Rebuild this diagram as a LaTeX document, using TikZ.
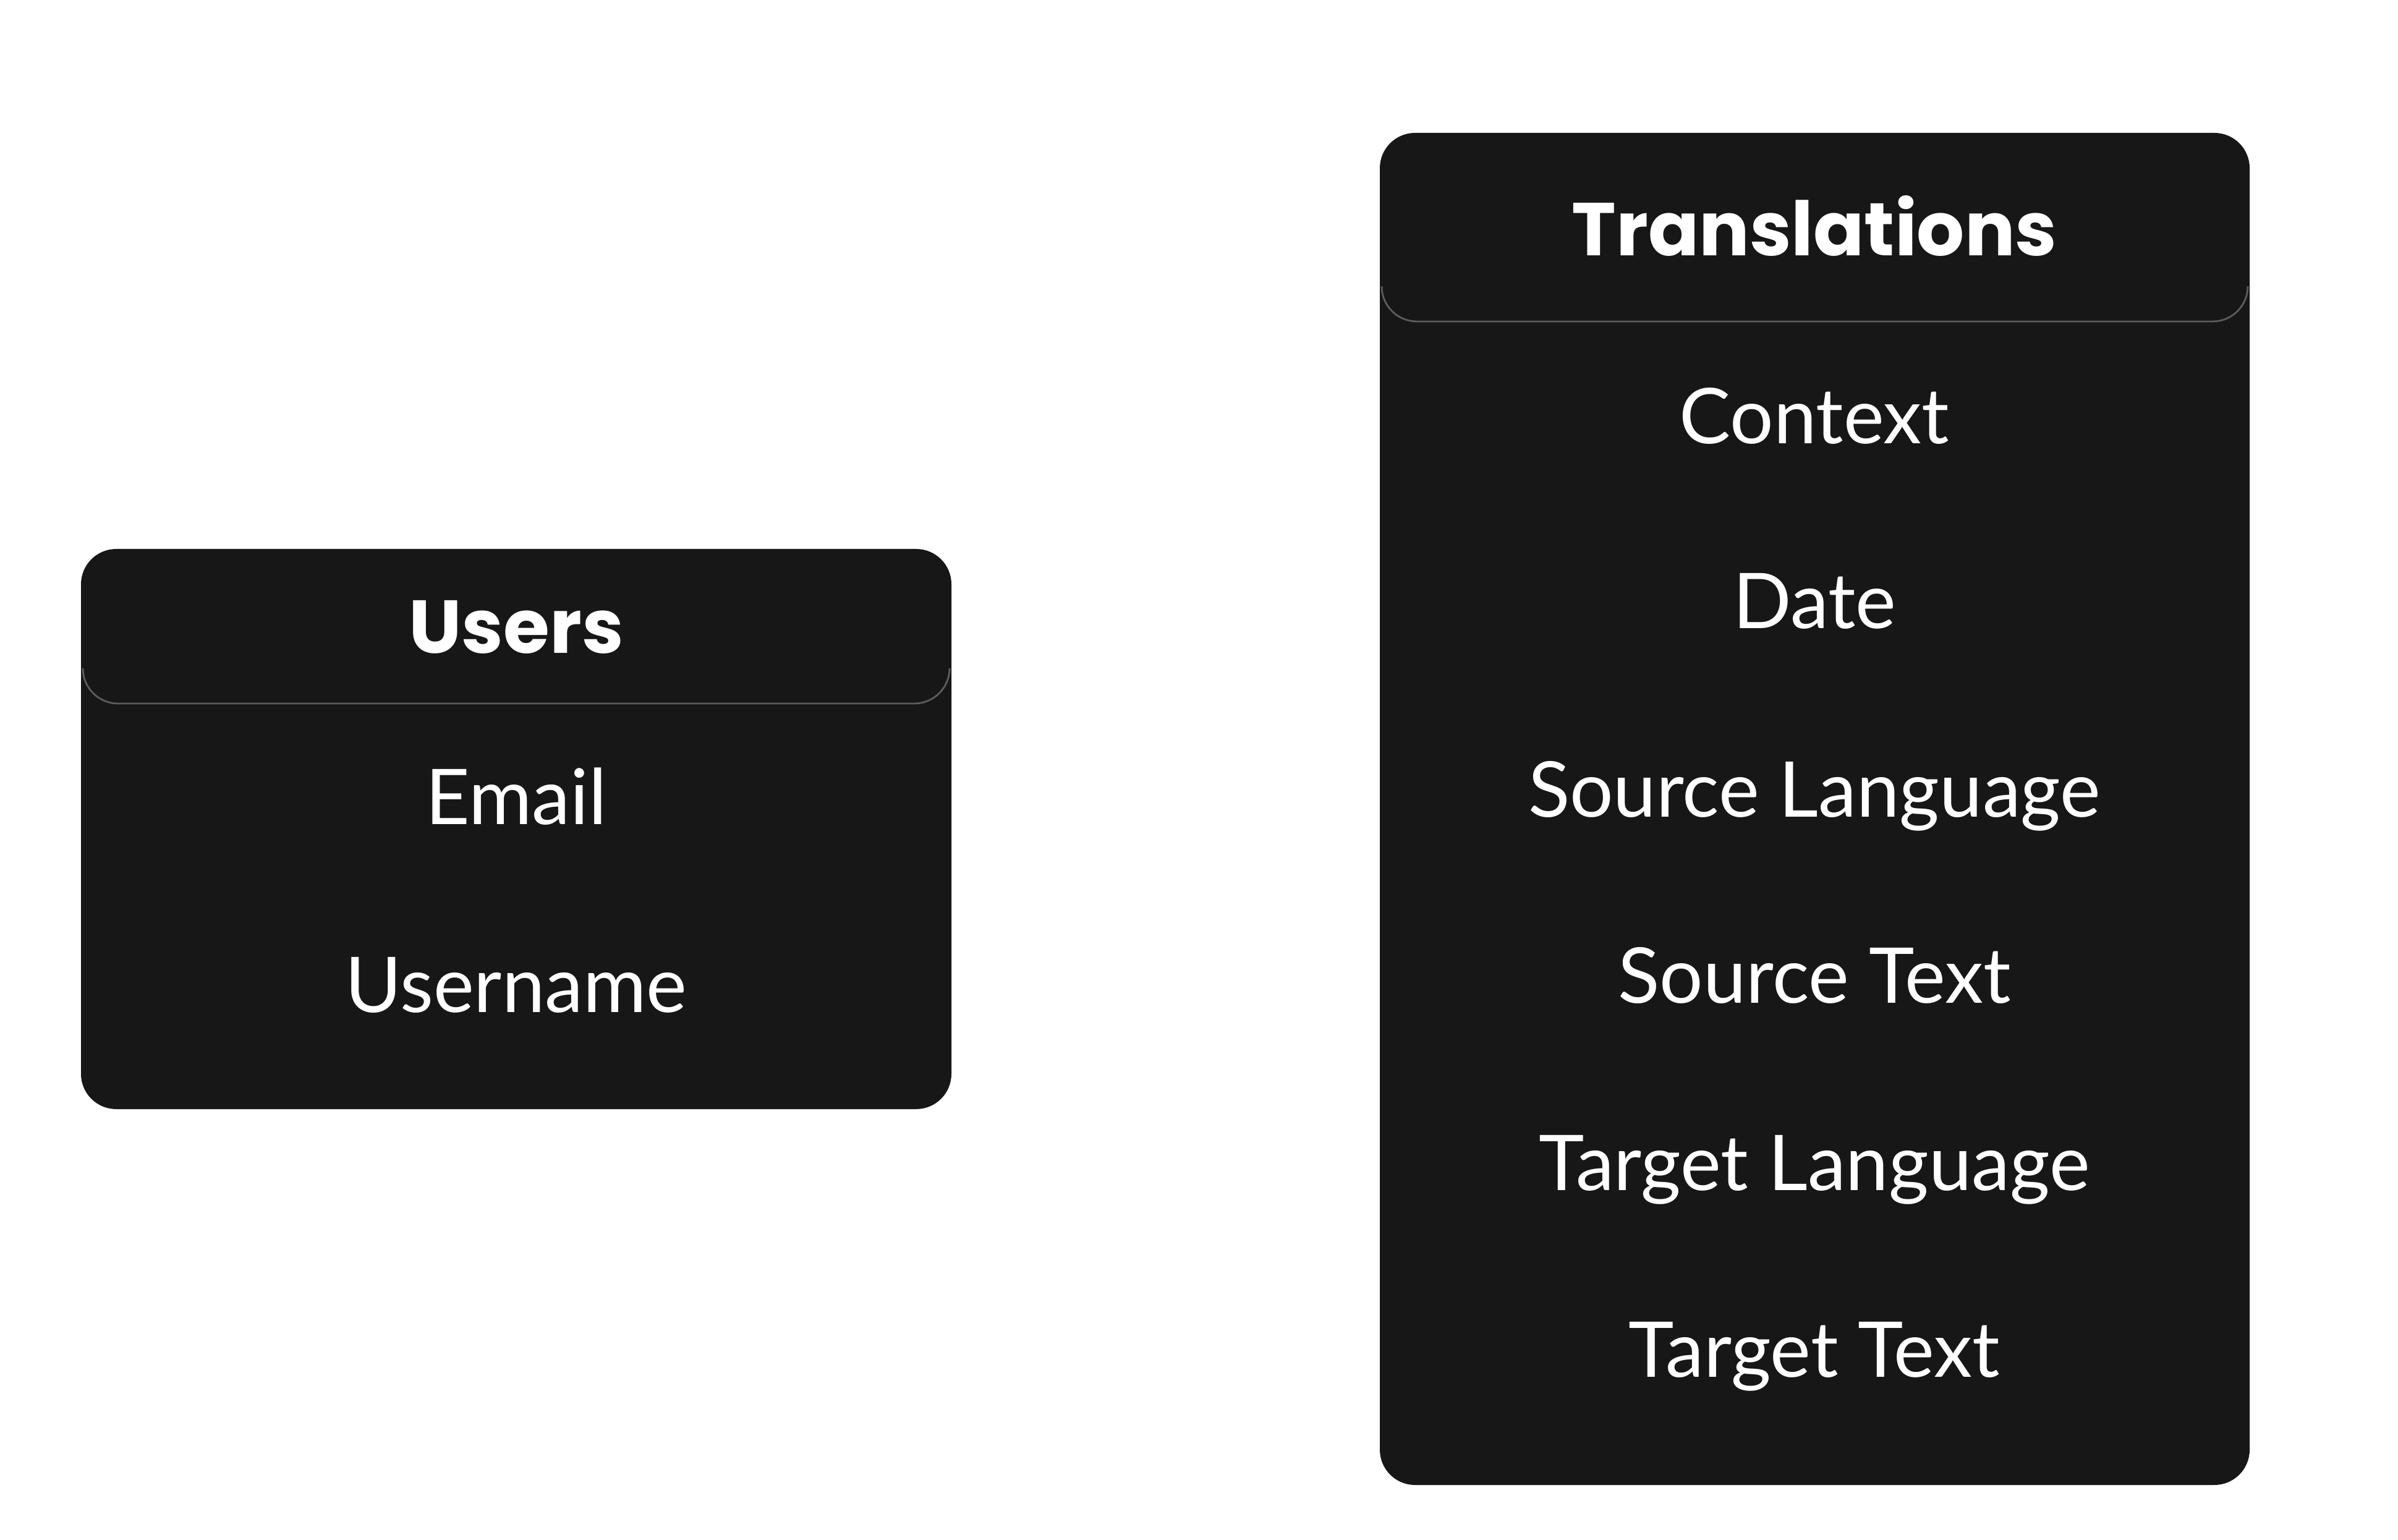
\documentclass[tikz,border=0pt]{standalone}
\usepackage{fontspec}
\setmainfont{Lato}
\newfontfamily\headfont{Poppins}
\usepackage{xcolor}
\definecolor{cTable}{HTML}{171717}
\definecolor{cRule}{HTML}{5C5C5C}

\begin{document}
\begin{tikzpicture}[
    tablebox/.style={fill=cTable, rounded corners=5.7mm},
    headrule/.style={draw=cRule, line width=0.8pt, rounded corners=5.7mm},
    title/.style={text=white, anchor=base, inner sep=0pt, font=\headfont\bfseries\fontsize{34.5}{40}\selectfont},
    field/.style={text=white, anchor=base, inner sep=0pt, font=\fontsize{35.4}{42}\selectfont}
  ]
  \useasboundingbox (0,0) rectangle (38.79,24.90);
  % Users table
  \fill[tablebox] (1.31,6.96) rectangle (15.39,16.02);
  \draw[headrule] (1.34,14.09) -- (1.34,13.52) -- (15.36,13.52) -- (15.36,14.09);
  \node[title] (usersHead) at (8.35,14.33) {Users};
  \node[field] (usersEmail) at (8.35,11.56) {Email};
  \node[field] (usersName) at (8.35,8.52) {Username};
  % Translations table
  \fill[tablebox] (22.32,0.88) rectangle (36.39,22.75);
  \draw[headrule] (22.35,20.27) -- (22.35,19.70) -- (36.36,19.70) -- (36.36,20.27);
  \node[title] (transHead) at (29.35,20.76) {Translations};
  \node[field] (transContext) at (29.35,17.72) {Context};
  \node[field] (transDate) at (29.35,14.73) {Date};
  \node[field] (transSrcLang) at (29.35,11.68) {Source Language};
  \node[field] (transSrcText) at (29.35,8.67) {Source Text};
  \node[field] (transTgtLang) at (29.35,5.65) {Target Language};
  \node[field] (transTgtText) at (29.35,2.63) {Target Text};
\end{tikzpicture}
\end{document}
